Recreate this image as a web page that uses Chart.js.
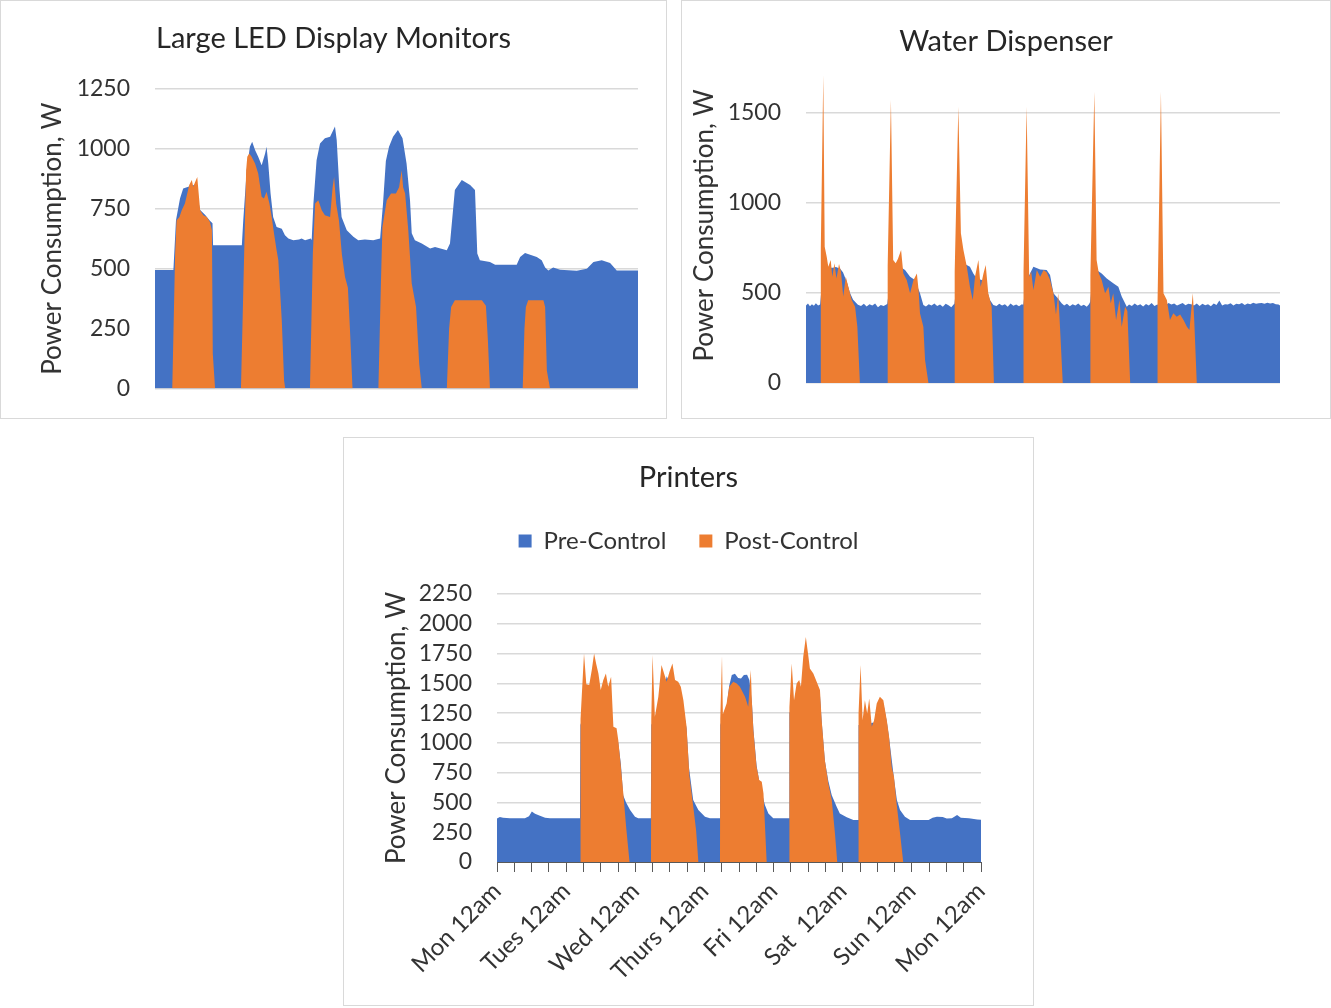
<!DOCTYPE html>
<html>
<head>
<meta charset="utf-8">
<title>Power Consumption – Pre- vs Post-Control</title>
<script src="https://cdn.jsdelivr.net/npm/chart.js@4.4.1/dist/chart.umd.min.js"></script>
<style>
  html, body { margin: 0; padding: 0; background: #ffffff; }
  body { width: 1331px; height: 1008px; position: relative; overflow: hidden; }
  .panel { position: absolute; box-sizing: border-box; border: 1px solid #d9d9d9; background: #ffffff; }
  .panel canvas { position: absolute; left: 0; top: 0; }
</style>
</head>
<body>
<div class="panel" style="left:0px;top:0px;width:667px;height:419px"><canvas id="led" width="665" height="417"></canvas></div>
<div class="panel" style="left:681px;top:0px;width:650px;height:419px"><canvas id="water" width="648" height="417"></canvas></div>
<div class="panel" style="left:343px;top:437px;width:691px;height:569px"><canvas id="printers" width="689" height="567"></canvas></div>
<script>
// Weekly power logs (hours since Monday 12am, watts), one pair of arrays per series.

// ---- Large LED Display Monitors ----
const ledPreHours = [0, 6.4, 7.3, 8.7, 9.8, 11.6, 13.9, 15.7, 17.4, 19.1,
  20.0, 20.2, 30.2, 30.7, 31.9, 33.0, 33.8, 34.8, 35.9, 37.1,
  38.3, 38.8, 39.4, 40.2, 41.1, 42.3, 44.1, 45.2, 46.4, 48.1,
  50.1, 51.0, 52.2, 54.2, 54.5, 55.1, 56.2, 57.4, 59.1, 60.9,
  62.6, 63.2, 64.1, 64.9, 66.7, 69.0, 70.7, 73.0, 75.9, 78.3,
  79.3, 80.3, 81.4, 82.8, 84.5, 86.1, 87.5, 88.7, 89.3, 90.4,
  92.8, 95.7, 97.4, 101.5, 102.6, 104.3, 106.7, 109.6, 111.3, 112.1,
  113.0, 116.5, 118.3, 125.8, 127.0, 128.7, 132.8, 134.5, 135.7, 136.8,
  138.5, 140.9, 146.7, 150.2, 152.5, 155.4, 158.3, 160.6, 168];
const ledPreWatts = [495, 495, 702, 793, 835, 842, 850, 745, 725, 700,
  690, 598, 598, 702, 911, 1009, 1030, 995, 967, 932,
  981, 1009, 939, 814, 716, 674, 667, 640, 626, 619,
  622, 626, 619, 626, 619, 772, 953, 1023, 1044, 1051,
  1093, 1037, 842, 716, 660, 633, 619, 622, 619, 626,
  770, 950, 1009, 1051, 1079, 1044, 939, 786, 648, 619,
  605, 584, 591, 577, 605, 828, 870, 849, 828, 563,
  535, 528, 517, 517, 549, 566, 549, 535, 505, 493,
  505, 496, 491, 500, 528, 535, 524, 493, 493];
const ledPostHours = [0, 6.0, 7.0, 7.5, 8.5, 9.3, 10.4, 11.9, 12.8, 13.3,
  14.0, 14.7, 15.7, 16.8, 18.0, 19.1, 19.8, 20.1, 20.9, 29.9,
  31.7, 32.1, 32.8, 33.6, 34.8, 35.9, 37.1, 37.9, 38.8, 39.8,
  40.6, 41.4, 42.3, 42.9, 44.1, 44.9, 45.3, 53.9, 54.9, 55.7,
  56.8, 58.0, 59.1, 60.9, 61.8, 62.3, 63.0, 64.0, 65.0, 66.1,
  67.1, 67.8, 68.7, 77.7, 78.6, 79.1, 80.6, 82.1, 83.8, 84.9,
  85.8, 86.3, 87.0, 88.1, 89.3, 90.8, 91.9, 92.8, 101.5, 102.3,
  103.0, 104.3, 113.7, 115.1, 115.8, 116.5, 127.9, 128.5, 129.0, 129.8,
  135.1, 135.7, 136.3, 137.4, 168];
const ledPostWatts = [0, 0, 563, 702, 716, 744, 772, 849, 870, 842,
  863, 883, 744, 723, 716, 695, 660, 146, 0, 0,
  911, 967, 981, 967, 939, 897, 800, 793, 821, 772,
  716, 647, 577, 535, 284, 33, 0, 0, 563, 772,
  786, 744, 723, 716, 842, 883, 772, 700, 560, 465,
  420, 250, 0, 0, 450, 674, 786, 814, 814, 840,
  911, 840, 814, 660, 438, 340, 103, 0, 0, 250,
  340, 368, 368, 345, 200, 0, 0, 250, 340, 368,
  368, 340, 75, 0, 0];

// ---- Water Dispenser ----
const waterPreHours = [0, 0.7, 1.4, 2.1, 2.8, 3.5, 4.3, 5.0,
  5.7, 6.4, 9.6, 10.6, 12.1, 13.1, 14.5, 15.6, 16.7, 18.4,
  19.5, 20.5, 21.5, 22.5, 23.5, 24.5, 25.5, 26.5, 27.5, 28.5,
  28.8, 29.8, 30.8, 33.3, 35.1, 36.9, 38.6, 40.4, 41.6,
  42.5, 43.5, 44.5, 45.5, 46.5, 47.5, 48.5, 49.5, 50.5, 51.5, 52.4,
  52.6, 53.5, 54.6, 55.8, 58.1, 59.3, 60.5, 62.3, 64.1, 65.2, 66.4,
  67.5, 68.5, 69.5, 70.5, 71.5, 72.5, 73.5, 74.5, 75.5, 76.5,
  77.0, 78.0, 79.4, 80.6, 83.0, 85.3, 86.5, 87.7, 89.3, 90.6,
  91.5, 92.5, 93.5, 94.5, 95.5, 96.5, 97.5, 98.5, 99.5, 100.3,
  100.7, 101.4, 103.0, 104.8, 106.6, 108.9, 110.7, 111.9, 113.7,
  114.5, 115.5, 116.5, 117.5, 118.5, 119.5, 120.5, 121.5, 122.5, 123.5,
  124.5, 125.5, 126.5, 127.5, 128.5, 129.5, 130.5, 131.5, 132.5, 133.5,
  134.5, 135.5, 136.5, 137.5, 138.5, 139.5, 140.5, 141.5, 142.5, 143.5,
  144.5, 145.5, 146.5, 147.5, 148.5, 149.5, 150.5, 151.5, 152.5, 153.5,
  154.5, 155.5, 156.5, 157.5, 158.5, 159.5, 160.5, 161.5, 162.5, 163.5,
  164.5, 165.5, 166.5, 167.5, 168];
const waterPreWatts = [430, 441, 426, 438, 429, 443, 431, 436,
  560, 640, 640, 645, 635, 615, 560, 500, 462, 435,
  428, 440, 425, 437, 430, 441, 421, 433, 428, 436,
  440, 560, 640, 646, 628, 590, 572, 498, 433,
  425, 438, 430, 442, 428, 436, 424, 440, 432, 421, 438,
  440, 560, 640, 665, 646, 609, 581, 572, 517, 461, 433,
  428, 440, 430, 437, 423, 441, 429, 436, 426, 438,
  435, 560, 609, 646, 630, 628, 600, 498, 470, 443,
  430, 440, 426, 437, 431, 442, 428, 435, 424, 438,
  450, 560, 628, 609, 581, 554, 535, 480, 424,
  436, 428, 441, 430, 437, 425, 439, 431, 444, 428,
  436, 430, 440, 432, 445, 436, 441, 430, 438, 445,
  432, 440, 437, 431, 442, 428, 440, 432, 437, 427,
  441, 433, 458, 430, 438, 436, 443, 431, 440, 437,
  445, 433, 441, 438, 446, 440, 443, 445, 440, 446,
  442, 444, 438, 436, 430];
const waterPostHours = [0, 5.1, 5.25, 6.13, 6.63, 7.34, 7.9, 8.76, 9.33, 10.07,
  10.8, 11.7, 12.4, 13.2, 14.1, 15.0, 16.2, 17.4, 18.2, 19.1,
  28.8, 28.95, 30.1, 30.9, 31.8, 32.6, 33.7, 34.5, 35.7, 36.9,
  38.1, 39.3, 39.9, 40.4, 41.6, 42.2, 43.4,
  52.6, 52.7, 54.0, 54.9, 55.8, 57.0, 58.1, 59.1, 59.9, 61.1,
  61.9, 62.9, 63.7, 64.6, 65.8, 66.6,
  77.0, 77.1, 78.2, 79.1, 79.8, 80.6, 81.8, 83.0, 84.2, 85.3,
  86.5, 87.7, 88.6, 89.4, 90.0, 91.0,
  100.7, 100.8, 102.2, 103.0, 103.8, 104.8, 106.0, 107.2, 108.0, 108.9,
  109.9, 111.1, 111.9, 113.1, 113.9, 114.9,
  124.5, 124.6, 125.8, 126.7, 127.9, 129.0, 130.2, 131.4, 132.6, 133.8,
  135.0, 135.9, 137.1, 137.6, 138.5, 168];
const waterPostWatts = [0, 0, 750, 1710, 757, 702, 646, 683, 590, 665,
  580, 661, 620, 480, 590, 535, 461, 424, 313, 0,
  0, 650, 1572, 683, 665, 690, 739, 609, 572, 498,
  572, 609, 517, 387, 313, 128, 0,
  0, 620, 1535, 832, 739, 646, 535, 461, 590, 683,
  535, 609, 656, 498, 424, 0,
  0, 620, 1535, 590, 620, 517, 628, 590, 628, 615,
  572, 498, 380, 498, 320, 0,
  0, 600, 1618, 683, 609, 572, 498, 535, 443, 498,
  350, 461, 313, 424, 400, 0,
  0, 450, 1618, 498, 461, 350, 387, 368, 380, 350,
  313, 294, 498, 350, 0, 0];

// ---- Printers ----
const printerPreHours = [0, 1.0, 2.1, 4.5, 9.7, 11.1, 12.1, 13.2, 14.9, 16.7, 18.4, 28.8,
  28.95, 32.2, 35.7, 39.2, 40.4, 42.1, 43.0, 43.8, 44.8, 46.2, 47.9, 49.0, 53.4,
  53.55, 56.6, 58.9, 60.1, 63.5, 65.8, 66.6, 68.1, 69.9, 72.2, 73.9, 77.4,
  77.5, 79.7, 80.6, 81.5, 82.6, 83.7, 84.7, 85.7, 86.8, 87.6, 88.5, 89.0, 90.1, 91.3, 93.0, 94.2, 95.9, 101.4,
  101.5, 105.2, 110.4, 112.1, 112.7, 113.8, 115.0, 116.2, 117.9, 119.0, 121.4, 123.7, 125.4,
  125.5, 126.9, 127.7, 128.5, 129.2, 130.1, 130.9, 131.8, 134.1, 135.3, 136.1, 137.8, 138.8, 139.9, 141.6, 143.4,
  149.8, 151.2, 152.7, 154.7, 156.1, 157.9, 159.7, 161.0, 163.8, 166.7, 168];
const printerPreWatts = [365, 377, 372, 368, 368, 385, 424, 405, 388, 372, 367, 367,
  1150, 1400, 1400, 1400, 1100, 1000, 820, 560, 500, 436, 380, 367, 367,
  1150, 1300, 1560, 1500, 1450, 1120, 800, 520, 436, 380, 367, 367,
  1150, 1300, 1480, 1569, 1580, 1545, 1540, 1569, 1572, 1527, 1330, 1110, 810, 640, 478, 408, 367, 367,
  1250, 1450, 1480, 1400, 1180, 850, 680, 560, 464, 408, 375, 352, 352,
  1150, 1150, 1200, 1200, 1150, 1170, 1170, 1280, 1330, 1180, 1040, 700, 520, 436, 380, 352,
  352, 372, 380, 378, 365, 368, 394, 372, 368, 357, 355];
const printerPostHours = [0, 28.85, 29.0, 30.2, 31.0, 32.0, 32.9, 33.7, 34.4, 35.2,
  36.0, 36.9, 37.8, 38.6, 39.6, 40.4, 41.5, 42.1, 43.0, 43.9, 44.8, 46.0,
  53.45, 53.55, 54.0, 54.8, 56.0, 57.1, 58.0, 58.9, 59.9, 60.9,
  61.8, 62.9, 63.8, 64.7, 65.8, 66.8, 68.2, 69.1, 69.9,
  77.4, 77.5, 78.1, 78.4, 79.7, 80.6, 82.0, 83.2, 84.3, 86.1,
  87.2, 88.1, 88.5, 89.0, 90.1, 91.0, 91.9, 92.5, 93.6,
  101.4, 101.5, 102.3, 103.1, 104.0, 104.9, 105.5, 106.3, 107.2, 108.1,
  108.6, 109.8, 111.2, 112.1, 112.7, 113.8, 115.0, 116.2, 117.3, 118.1,
  125.4, 125.5, 126.2, 126.9, 127.7, 128.5, 129.2, 130.1, 130.9, 131.8,
  132.9, 134.1, 135.3, 136.1, 137.0, 137.8, 138.7, 139.9, 141.0, 168];
const printerPostWatts = [0, 0, 1200, 1751, 1493, 1485, 1611, 1751, 1667, 1583,
  1443, 1527, 1583, 1471, 1555, 1135, 1122, 1023, 800, 560, 300, 0,
  0, 1200, 1737, 1219, 1387, 1653, 1583, 1513, 1600, 1667,
  1527, 1513, 1471, 1359, 1135, 720, 450, 268, 0,
  0, 1200, 1730, 1240, 1331, 1471, 1513, 1499, 1471, 1387,
  1303, 1611, 1334, 1107, 800, 688, 674, 576, 0,
  0, 1300, 1667, 1359, 1499, 1527, 1471, 1723, 1890, 1723,
  1625, 1583, 1499, 1443, 1191, 856, 660, 520, 241, 0,
  0, 1250, 1653, 1191, 1359, 1247, 1373, 1135, 1191, 1331,
  1387, 1359, 1191, 1051, 800, 716, 492, 241, 0, 0];

const dayLabels = ['Mon 12am', 'Tues 12am', 'Wed 12am', 'Thurs 12am', 'Fri 12am', 'Sat  12am', 'Sun 12am', 'Mon 12am'];
const seriesNames = ['Pre-Control', 'Post-Control'];
const waterTicks = [0, 500, 1000, 1500];

// ---- styling ----
const BLUE = '#4472C4';
const ORANGE = '#ED7D31';
const GRID = '#d9d9d9';
const TEXT = '#333333';
const TITLE = '#262626';
const AXIS = '#595959';

Chart.defaults.font.family = "Lato, 'Open Sans', 'Noto Sans', sans-serif";
Chart.defaults.color = TEXT;

function points(hours, watts) {
  return hours.map((h, i) => ({ x: h, y: watts[i] }));
}

function area(label, hours, watts, color, order) {
  return {
    label,
    data: points(hours, watts),
    backgroundColor: color,
    borderColor: 'rgba(0,0,0,0)',
    borderWidth: 0,
    fill: 'origin',
    pointRadius: 0,
    pointHoverRadius: 0,
    tension: 0,
    order
  };
}

// force a scale's thickness so the plot area lands where it should
function thickness(px) {
  return scale => {
    if (scale.isHorizontal()) scale.height = px; else scale.width = px;
  };
}

function spacer(position, px) {
  return {
    type: 'linear',
    position,
    display: true,
    ticks: { display: false },
    grid: { display: false, drawTicks: false },
    border: { display: false },
    afterFit: thickness(px)
  };
}

function valueAxis(o) {
  const axis = {
    type: 'linear',
    position: 'left',
    min: 0,
    max: o.max,
    ticks: {
      stepSize: o.step,
      autoSkip: false,
      padding: 0,
      font: { size: 23 },
      color: TEXT,
      callback: v => String(v)
    },
    // the (invisible) tick marks keep the labels clear of the plot
    grid: { color: GRID, lineWidth: 1.5, drawTicks: true, tickLength: 25, tickColor: 'rgba(0,0,0,0)' },
    border: { display: false },
    title: {
      display: true,
      text: 'Power Consumption, W',
      font: { size: 26 },
      color: TEXT,
      padding: { top: o.titlePad, bottom: 0 }
    },
    afterFit: thickness(o.width)
  };
  if (o.tickValues) {
    axis.afterBuildTicks = s => {
      s.ticks = o.tickValues.map(v => ({ value: v }));
    };
  }
  return axis;
}

function chartTitle(text, top, bottom) {
  return {
    display: true,
    text,
    color: TITLE,
    font: { size: 29, weight: 'normal' },
    padding: { top, bottom }
  };
}

const common = {
  responsive: false,
  maintainAspectRatio: false,
  animation: false,
  devicePixelRatio: 1,
  events: [],
  elements: { line: { borderJoinStyle: 'miter' } }
};

// ---- Large LED Display Monitors ----
new Chart(document.getElementById('led'), {
  type: 'line',
  data: {
    datasets: [
      area(seriesNames[0], ledPreHours, ledPreWatts, BLUE, 1),
      area(seriesNames[1], ledPostHours, ledPostWatts, ORANGE, 0)
    ]
  },
  options: Object.assign({}, common, {
    layout: { padding: { bottom: 29.5 } },
    scales: {
      x: { type: 'linear', min: 0, max: 168, display: false },
      y: valueAxis({ max: 1250, step: 250, width: 154, titlePad: 36.4 }),
      yRight: spacer('right', 28)
    },
    plugins: {
      title: chartTitle('Large LED Display Monitors', 20, 33.2),
      legend: { display: false },
      tooltip: { enabled: false }
    }
  })
});

// ---- Water Dispenser ----
new Chart(document.getElementById('water'), {
  type: 'line',
  data: {
    datasets: [
      area(seriesNames[0], waterPreHours, waterPreWatts, BLUE, 1),
      area(seriesNames[1], waterPostHours, waterPostWatts, ORANGE, 0)
    ]
  },
  options: Object.assign({}, common, {
    layout: { padding: { bottom: 35 } },
    scales: {
      x: { type: 'linear', min: 0, max: 168, display: false },
      y: valueAxis({ max: 1750, step: 500, width: 124, titlePad: 7.4, tickValues: waterTicks }),
      yRight: spacer('right', 50)
    },
    plugins: {
      title: chartTitle('Water Dispenser', 23.1, 9.1),
      legend: { display: false },
      tooltip: { enabled: false }
    }
  })
});

// ---- Printers ----
new Chart(document.getElementById('printers'), {
  type: 'line',
  data: {
    datasets: [
      area(seriesNames[0], printerPreHours, printerPreWatts, BLUE, 1),
      area(seriesNames[1], printerPostHours, printerPostWatts, ORANGE, 0)
    ]
  },
  options: Object.assign({}, common, {
    scales: {
      x: {
        type: 'linear',
        position: 'bottom',
        min: 0,
        max: 168,
        ticks: {
          stepSize: 6,
          autoSkip: false,
          minRotation: 45,
          maxRotation: 45,
          padding: 5,
          font: { size: 24 },
          color: TEXT,
          callback: v => (Math.round(v) % 24 === 0 ? dayLabels[Math.round(v) / 24] : '')
        },
        grid: { drawOnChartArea: false, drawTicks: true, tickLength: 10, color: AXIS, lineWidth: 1 },
        border: { display: true, color: AXIS, width: 1 },
        afterFit: thickness(143)
      },
      xTop: spacer('top', 31),
      y: valueAxis({ max: 2250, step: 250, width: 153, titlePad: 37.4 }),
      yRight: spacer('right', 52)
    },
    plugins: {
      title: chartTitle('Printers', 22.6, 0.6),
      legend: {
        display: true,
        position: 'top',
        labels: {
          boxWidth: 13,
          boxHeight: 13,
          padding: 33,
          font: { size: 24 },
          color: TEXT,
          sort: (a, b) => a.datasetIndex - b.datasetIndex
        }
      },
      tooltip: { enabled: false }
    }
  })
});
</script>
</body>
</html>
